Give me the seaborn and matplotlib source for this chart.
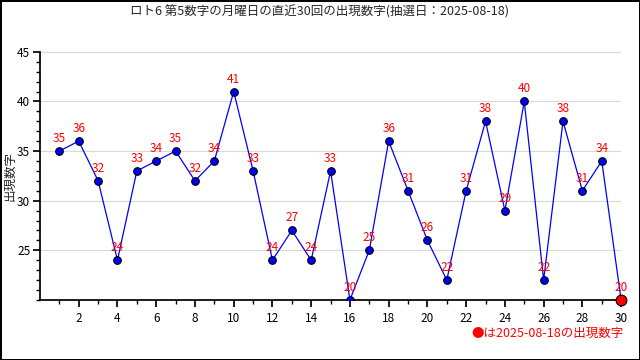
import numpy as np
import pandas as pd
import seaborn as sns
import matplotlib.pyplot as plt
from matplotlib.ticker import MultipleLocator

# data
draws = list(range(1, 31))
numbers = [35, 36, 32, 24, 33, 34, 35, 32, 34, 41, 33, 24, 27, 24, 33,
           20, 25, 36, 31, 26, 22, 31, 38, 29, 40, 22, 38, 31, 34, 20]
title = "ロト6 第5数字の月曜日の直近30回の出現数字(抽選日：2025-08-18)"
ylabel = "出現数字"
note = "●は2025-08-18の出現数字"

df = pd.DataFrame({"draw": draws, "num": numbers})

sns.set_theme(style="white")
plt.rcParams['font.family'] = ['Noto Sans CJK JP', 'DejaVu Sans']

fig = plt.figure(figsize=(6.4, 3.6), dpi=100)
fig.patch.set_edgecolor('black')
fig.patch.set_linewidth(2)
ax = fig.add_axes([0.0625, 0.167, 0.908, 0.689])

sns.lineplot(data=df, x="draw", y="num", color="blue", lw=0.9, ax=ax, zorder=2)
sns.scatterplot(data=df.iloc[:-1], x="draw", y="num", color="blue",
                edgecolor="black", s=30, linewidth=0.8, ax=ax, zorder=3)
sns.scatterplot(data=df.iloc[-1:], x="draw", y="num", color="red",
                edgecolor="black", s=60, linewidth=0.8, ax=ax, zorder=4, clip_on=False)

for d, n in zip(draws, numbers):
    ax.text(d, n + 0.6, str(n), color="red", fontsize=8.5, ha="center", va="bottom", zorder=5)

ax.set_xlim(0, 30)
ax.set_ylim(20, 45)
ax.set_xticks(range(2, 31, 2))
ax.set_xticks(range(1, 31), minor=True)
ax.set_yticks([25, 30, 35, 40, 45])
ax.yaxis.set_minor_locator(MultipleLocator(1))
ax.tick_params(which="both", direction="out", bottom=True, left=True, colors="black", labelsize=8.5)
ax.tick_params(which="major", length=5)
ax.tick_params(which="minor", length=3)
ax.tick_params(axis="y", pad=2)
ax.grid(axis="y", color="#d8d8d8", lw=0.8)
ax.set_axisbelow(True)
sns.despine(ax=ax)
for s in ["left", "bottom"]:
    ax.spines[s].set_color("black")
ax.set_xlabel("")
ax.set_ylabel(ylabel, fontsize=9)
ax.yaxis.set_label_coords(-0.04, 0.5)

fig.suptitle(title, fontsize=9, y=0.985)
fig.text(0.975, 0.075, note, color="red", fontsize=9, ha="right", va="center")

fig.savefig("out.png", dpi=100)
